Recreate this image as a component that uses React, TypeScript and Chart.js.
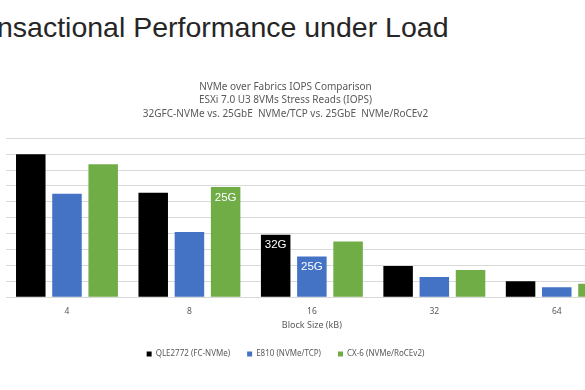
import React, { useEffect, useRef } from "react";
import { Chart, registerables } from "chart.js";

Chart.register(...registerables);

const pageTitle = "Transactional Performance under Load";
const chartTitle = [
  "NVMe over Fabrics IOPS Comparison",
  "ESXi 7.0 U3 8VMs Stress Reads (IOPS)",
  "32GFC-NVMe vs. 25GbE  NVMe/TCP vs. 25GbE  NVMe/RoCEv2",
];
const xAxisTitle = "Block Size (kB)";
const blockSizes = ["4", "8", "16", "32", "64"];
const seriesNames = ["QLE2772 (FC-NVMe)", "E810 (NVMe/TCP)", "CX-6 (NVMe/RoCEv2)"];
const seriesColors = ["#000000", "#4472C4", "#70AD47"];
const qle2772 = [900000, 657000, 393000, 197000, 100000];
const e810 = [651000, 410000, 256000, 127000, 63000];
const cx6 = [837000, 693000, 351000, 171000, 84000];
const yMax = 1000000;
const yStep = 100000;
const barLabelSeries = [2, 0, 1];
const barLabelIndex = [1, 2, 2];
const barLabelText = ["25G", "32G", "25G"];

const barTextPlugin = {
  id: "barText",
  afterDatasetsDraw(chart: any) {
    const ctx = chart.ctx;
    ctx.save();
    ctx.fillStyle = "#ffffff";
    ctx.font = "11.5px 'Liberation Sans', Arial, sans-serif";
    ctx.textAlign = "center";
    ctx.textBaseline = "middle";
    barLabelText.forEach((t, i) => {
      const el = chart.getDatasetMeta(barLabelSeries[i]).data[barLabelIndex[i]];
      if (el) ctx.fillText(t, el.x, el.y + 10.5);
    });
    ctx.restore();
  },
};

const FONT = "'Noto Sans', 'Open Sans', sans-serif";

export default function App() {
  const ref = useRef<HTMLCanvasElement | null>(null);

  useEffect(() => {
    if (!ref.current) return;
    const data = [qle2772, e810, cx6];
    const chart = new Chart(ref.current, {
      type: "bar",
      data: {
        labels: blockSizes,
        datasets: seriesNames.map((name, i) => ({
          label: name,
          data: data[i],
          backgroundColor: seriesColors[i],
          borderWidth: 0,
          categoryPercentage: 0.887,
          barPercentage: 0.815,
        })),
      },
      options: {
        responsive: false,
        animation: false,
        devicePixelRatio: 1,
        layout: { padding: 0 },
        plugins: {
          title: {
            display: true,
            text: chartTitle,
            color: "#595959",
            font: { family: FONT, size: 10, weight: "normal", lineHeight: 1.35 },
            padding: { top: 0, bottom: 17.8 },
          },
          legend: {
            display: true,
            position: "bottom",
            labels: {
              color: "#595959",
              font: { family: FONT, size: 8 },
              boxWidth: 5,
              boxHeight: 5,
              padding: 17,
            },
          },
          tooltip: { enabled: false },
        },
        scales: {
          x: {
            grid: { display: false, drawTicks: false },
            border: { display: false },
            ticks: {
              color: "#595959",
              font: { family: FONT, size: 8.5 },
              padding: 9,
              maxRotation: 0,
            },
            title: {
              display: true,
              text: xAxisTitle,
              color: "#595959",
              font: { family: FONT, size: 9 },
              padding: { top: -5, bottom: 1.8 },
            },
          },
          y: {
            min: 0,
            max: yMax,
            ticks: { display: false, stepSize: yStep },
            grid: { color: "#d9d9d9", drawTicks: false, lineWidth: 1 },
            border: { display: false },
            afterFit: (scale: any) => {
              scale.width = 52.75;
            },
          },
        },
      },
      plugins: [barTextPlugin],
    });
    return () => chart.destroy();
  }, []);

  return (
    <div
      style={{
        position: "fixed",
        left: 0,
        top: 0,
        width: 585,
        height: 390,
        overflow: "hidden",
        background: "#ffffff",
      }}
    >
      <div
        style={{
          position: "absolute",
          left: -44.75,
          top: 12.6,
          fontFamily: "'Liberation Sans', Arial, sans-serif",
          fontSize: 28.5,
          lineHeight: 1,
          color: "#262626",
          whiteSpace: "nowrap",
        }}
      >
        {pageTitle}
      </div>
      <div style={{ position: "absolute", left: -47, top: 80, width: 665, height: 288 }}>
        <canvas ref={ref} width={665} height={288} style={{ width: 665, height: 288, display: "block" }} />
      </div>
    </div>
  );
}
